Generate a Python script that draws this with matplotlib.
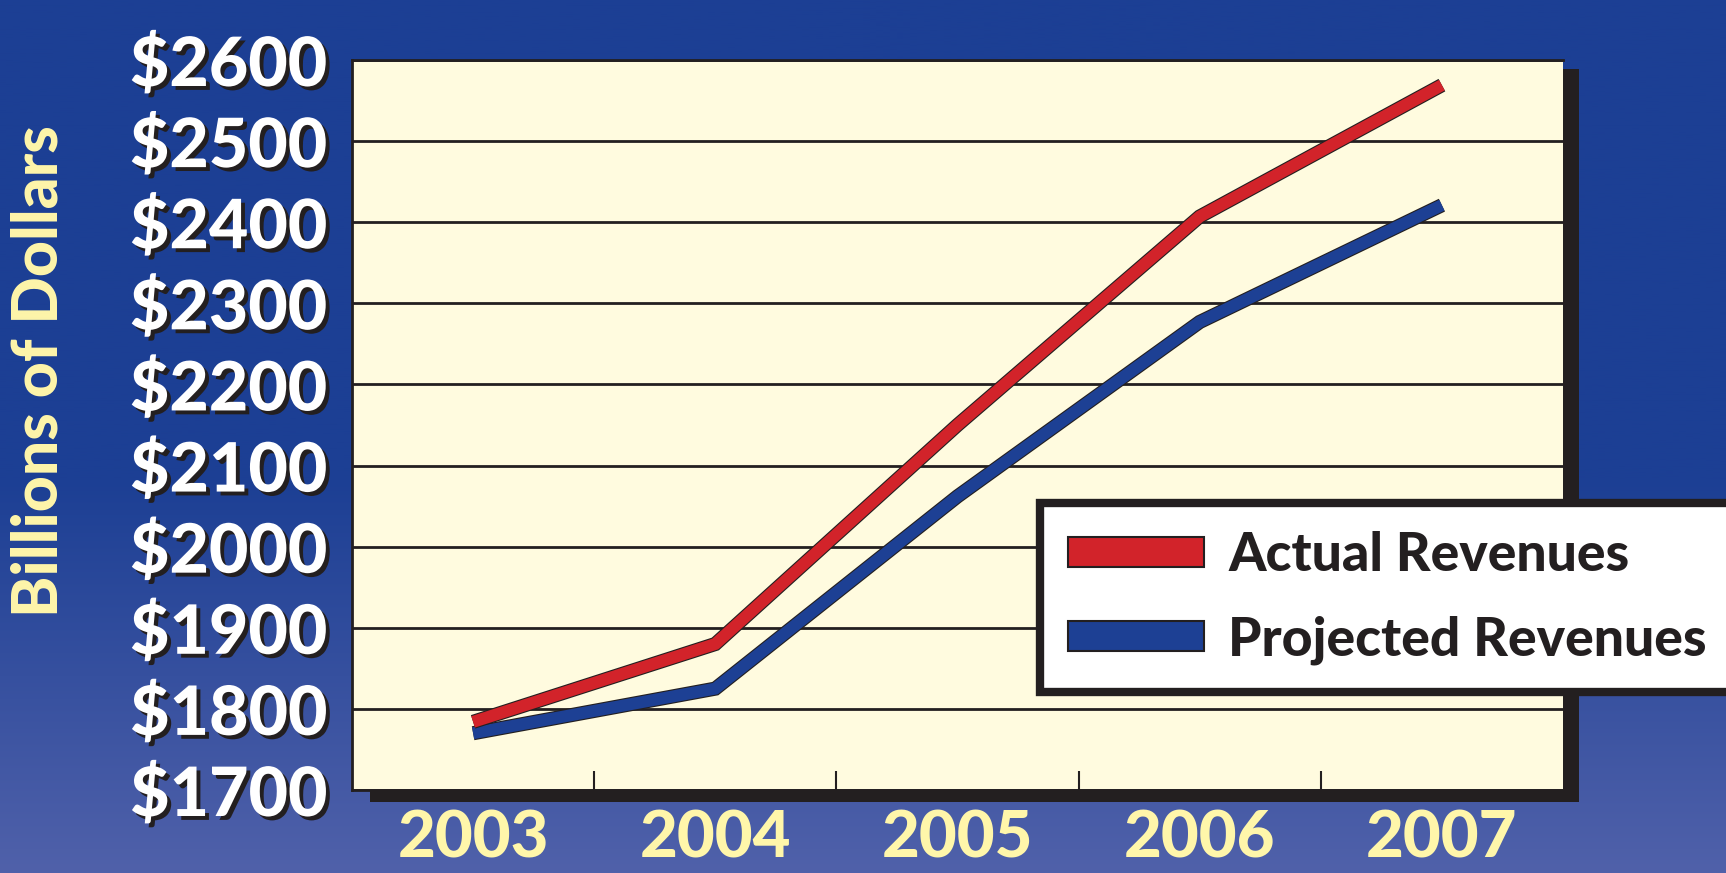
import matplotlib
matplotlib.use("Agg")
import matplotlib.pyplot as plt
import matplotlib.patheffects as pe
from matplotlib.patches import Patch, Rectangle
import numpy as np

years = ["2003", "2004", "2005", "2006", "2007"]
actual = [1784, 1880, 2150, 2407, 2569]
projected = [1770, 1825, 2062, 2277, 2421]
y_ticks = [1700, 1800, 1900, 2000, 2100, 2200, 2300, 2400, 2500, 2600]
y_labels = ["$" + str(v) for v in y_ticks]

DARK = "#231F20"
RED = "#D2232A"
BLUE = "#1D4094"
CREAM = "#FFFBDF"
YELLOW = "#FFF6AA"
FONT = "Lato"


def main() -> None:
    W, H = 1726, 873
    fig = plt.figure(figsize=(W / 100, H / 100), dpi=100)

    # gradient background + plot shadow
    bg = fig.add_axes([0, 0, 1, 1], zorder=-10)
    top = np.array([0x1C, 0x3F, 0x94]) / 255
    bottom = np.array([0x50, 0x61, 0xAA]) / 255
    t = np.clip((np.linspace(0, 1, 400) - 0.55) / 0.45, 0, 1)[:, None]
    grad = (top * (1 - t) + bottom * t)[:, None, :]
    bg.imshow(grad, aspect="auto", extent=[0, 1, 0, 1], origin="upper")
    bg.add_patch(Rectangle((370 / W, 1 - 802 / H), (1579 - 370) / W, (802 - 69) / H,
                           facecolor=DARK, edgecolor="none"))
    bg.set_xlim(0, 1)
    bg.set_ylim(0, 1)
    bg.axis("off")

    ax = fig.add_axes([352 / W, 1 - 790 / H, (1563 - 352) / W, (790 - 60) / H])
    ax.set_facecolor(CREAM)
    x = np.arange(len(years))

    for vals, color in [(projected, BLUE), (actual, RED)]:
        ax.plot(x, vals, color=color, lw=8.6, solid_capstyle="butt",
                solid_joinstyle="miter", zorder=3,
                path_effects=[pe.Stroke(linewidth=10.2, foreground=DARK), pe.Normal()])

    ax.set_xlim(-0.5, len(years) - 0.5)
    ax.set_ylim(y_ticks[0], y_ticks[-1])
    ax.set_yticks(y_ticks)
    ax.grid(axis="y", color=DARK, lw=2)
    ax.set_axisbelow(True)

    shadow = [pe.withSimplePatchShadow(offset=(2.8, -2.8), shadow_rgbFace=DARK, alpha=1)]
    ax.set_yticklabels(y_labels, fontsize=49, fontweight="black", family=FONT,
                       color="white")
    for lab in ax.get_yticklabels():
        lab.set_path_effects(shadow)
    ax.tick_params(axis="y", length=0, pad=18)

    ax.set_xticks(x[:-1] + 0.5)
    ax.set_xticklabels([])
    ax.tick_params(axis="x", which="major", direction="in", length=14, width=1.5,
                   color=DARK)
    ax.set_xticks(x, minor=True)
    ax.set_xticklabels(years, minor=True, fontsize=47, fontweight="black",
                       family=FONT, color=YELLOW)
    ax.tick_params(axis="x", which="minor", length=0, pad=14)

    for side in ["left", "bottom", "top"]:
        ax.spines[side].set_color(DARK)
        ax.spines[side].set_linewidth(2)
    ax.spines["right"].set_visible(False)

    fig.text(40 / W, 1 - 371 / H, "Billions of Dollars", rotation=90, ha="center",
             va="center", fontsize=45, fontweight="black", family=FONT, color=YELLOW)

    handles = [Patch(facecolor=RED, edgecolor=DARK, lw=1.5),
               Patch(facecolor=BLUE, edgecolor=DARK, lw=1.5)]
    leg = fig.legend(handles, ["Actual Revenues", "Projected Revenues"],
                     loc="upper left", bbox_to_anchor=(1040 / W, 1 - 503 / H),
                     prop={"family": FONT, "weight": "black", "size": 38.5},
                     handlelength=2.55, handleheight=0.5, handletextpad=0.45,
                     labelspacing=0.66, borderpad=0.52, borderaxespad=0,
                     fancybox=False, framealpha=1, facecolor="white",
                     edgecolor=DARK)
    leg.get_frame().set_linewidth(6)
    for txt in leg.get_texts():
        txt.set_color(DARK)

    fig.savefig("out.png", dpi=100)


if __name__ == "__main__":
    main()
